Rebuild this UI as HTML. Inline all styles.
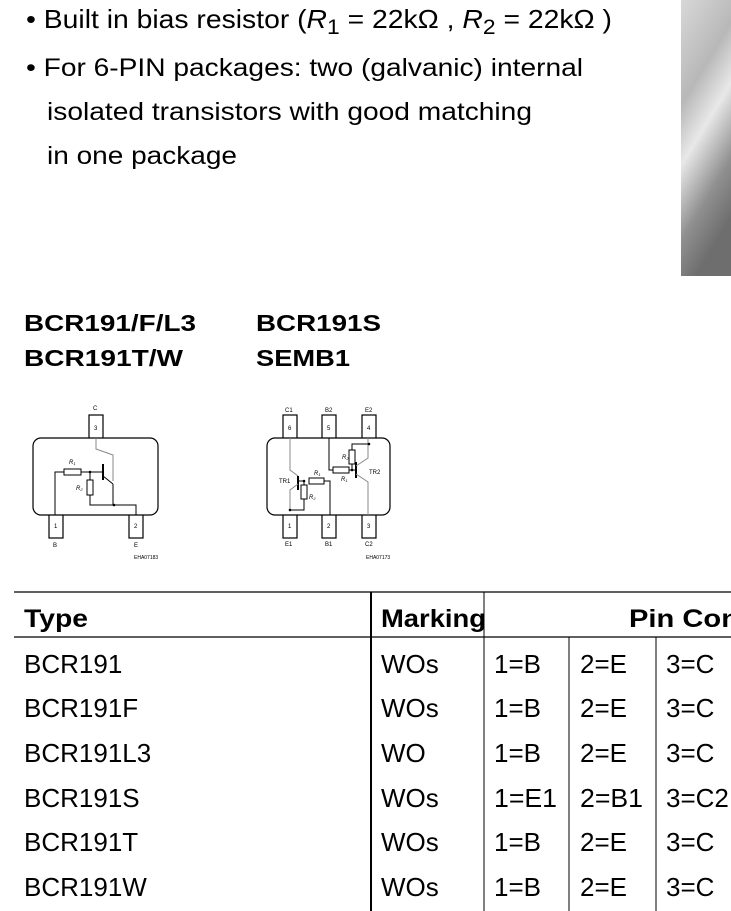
<!DOCTYPE html>
<html><head><style>
body{margin:0;background:#fff;}
svg{display:block;}
text{font-family:"Liberation Sans",sans-serif;fill:#000;}
</style></head><body>
<svg width="731" height="911" viewBox="0 0 731 911" xmlns="http://www.w3.org/2000/svg">
<defs>
<linearGradient id="g" x1="0" y1="0" x2="0.3" y2="1">
<stop offset="0" stop-color="#d8d8d8"/><stop offset="0.35" stop-color="#b8b8b8"/><stop offset="0.55" stop-color="#e8e8e8"/><stop offset="0.8" stop-color="#909090"/><stop offset="1" stop-color="#6e6e6e"/>
</linearGradient>
</defs>
<rect x="681" y="0" width="50" height="276" fill="url(#g)"/>

<g font-size="25">
<text x="26" y="28" font-size="26" textLength="586" lengthAdjust="spacingAndGlyphs">• Built in bias resistor (<tspan font-style="italic">R</tspan><tspan dy="6" font-size="21">1</tspan><tspan dy="-6"> = 22kΩ , </tspan><tspan font-style="italic">R</tspan><tspan dy="6" font-size="21">2</tspan><tspan dy="-6"> = 22kΩ )</tspan></text>
<text x="26" y="76" textLength="557" lengthAdjust="spacingAndGlyphs">• For 6-PIN packages: two (galvanic) internal</text>
<text x="47" y="120" textLength="485" lengthAdjust="spacingAndGlyphs">isolated transistors with good matching</text>
<text x="47" y="164" textLength="190" lengthAdjust="spacingAndGlyphs">in one package</text>
</g>

<g font-size="23" font-weight="bold">
<text x="24" y="331" textLength="172" lengthAdjust="spacingAndGlyphs">BCR191/F/L3</text>
<text x="24" y="366" textLength="159" lengthAdjust="spacingAndGlyphs">BCR191T/W</text>
<text x="256" y="331" textLength="125" lengthAdjust="spacingAndGlyphs">BCR191S</text>
<text x="256" y="366" textLength="94" lengthAdjust="spacingAndGlyphs">SEMB1</text>
</g>

<!-- left package -->
<g stroke="#000" stroke-width="1.2" fill="#fff">
<rect x="89" y="415" width="14" height="24"/>
<rect x="49" y="514" width="14" height="24"/>
<rect x="129" y="514" width="14" height="24"/>
<rect x="33" y="438" width="125" height="77" rx="8"/>
</g>
<g stroke="#000" stroke-width="1" fill="none">
<polyline points="96,438 96,449 113,455 113,481" stroke="#888"/>
<polyline points="55,515 55,472 64,472"/>
<rect x="64" y="469" width="17" height="6"/>
<line x1="81" y1="472" x2="103" y2="472"/>
<line x1="103" y1="464" x2="103" y2="480" stroke-width="2"/>
<line x1="103" y1="476" x2="113" y2="484"/>
<polyline points="90,472 90,480"/>
<rect x="87" y="480" width="6" height="15"/>
<polyline points="90,495 90,505 136,505 136,515"/>
<line x1="113" y1="484" x2="113" y2="505"/>
</g>
<circle cx="90" cy="472" r="1.3"/><circle cx="114" cy="505" r="1.3"/>
<g font-size="6">
<text x="93" y="410">C</text><text x="94" y="430">3</text>
<text x="54" y="528">1</text><text x="134" y="528">2</text>
<text x="53" y="547">B</text><text x="134" y="547">E</text>
<text x="69" y="464" font-style="italic">R<tspan font-size="4" dy="1">1</tspan></text>
<text x="76" y="490" font-style="italic">R<tspan font-size="4" dy="1">2</tspan></text>
<text x="134" y="559" font-size="5">EHA07183</text>
</g>

<!-- right package -->
<g stroke="#000" stroke-width="1.2" fill="#fff">
<rect x="283" y="415" width="14" height="24"/>
<rect x="322" y="415" width="14" height="24"/>
<rect x="362" y="415" width="14" height="24"/>
<rect x="283" y="514" width="14" height="24"/>
<rect x="322" y="514" width="14" height="24"/>
<rect x="362" y="514" width="14" height="24"/>
<rect x="267" y="438" width="123" height="77" rx="8"/>
</g>
<g stroke="#000" stroke-width="1" fill="none">
<polyline points="290,438 290,470 298,476" stroke="#888"/>
<line x1="298" y1="476" x2="298" y2="490" stroke-width="2"/>
<polyline points="298,484 290,490 290,510" stroke="#888"/>
<polyline points="298,481 304,481"/>
<rect x="309" y="478" width="15" height="6"/>
<polyline points="324,481 330,481 330,515"/>
<polyline points="304,481 304,485"/><rect x="301" y="485" width="6" height="14"/>
<polyline points="304,499 304,510 290,510"/>
<polyline points="329,438 329,470 333,470"/>
<rect x="333" y="467" width="16" height="6"/>
<line x1="349" y1="470" x2="356" y2="470"/>
<line x1="356" y1="462" x2="356" y2="478" stroke-width="2"/>
<polyline points="356,466 368,458 368,438" stroke="#888"/>
<polyline points="356,474 368,482 368,515" stroke="#888"/>
<polyline points="352,470 352,464"/><rect x="349" y="450" width="6" height="14"/>
<polyline points="352,450 352,444 369,444"/>
</g>
<circle cx="304" cy="481" r="1.3"/><circle cx="290" cy="510" r="1.3"/><circle cx="352" cy="470" r="1.3"/><circle cx="369" cy="444" r="1.3"/>
<g font-size="6">
<text x="285" y="412">C1</text><text x="325" y="412">B2</text><text x="365" y="412">E2</text>
<text x="288" y="430">6</text><text x="327" y="430">5</text><text x="367" y="430">4</text>
<text x="288" y="528">1</text><text x="327" y="528">2</text><text x="367" y="528">3</text>
<text x="285" y="546">E1</text><text x="325" y="546">B1</text><text x="365" y="546">C2</text>
<text x="279" y="483">TR1</text><text x="369" y="474">TR2</text>
<text x="314" y="475" font-style="italic">R<tspan font-size="4" dy="1">1</tspan></text><text x="341" y="481" font-style="italic">R<tspan font-size="4" dy="1">1</tspan></text>
<text x="342" y="459" font-style="italic">R<tspan font-size="4" dy="1">2</tspan></text><text x="309" y="499" font-style="italic">R<tspan font-size="4" dy="1">2</tspan></text>
<text x="366" y="559" font-size="5">EHA07173</text>
</g>

<!-- table -->
<g stroke="#000">
<line x1="14" y1="592" x2="731" y2="592" stroke-width="1.3"/>
<line x1="14" y1="637" x2="731" y2="637" stroke-width="1.3"/>
<line x1="371" y1="592" x2="371" y2="911" stroke-width="2"/>
<line x1="484" y1="592" x2="484" y2="911" stroke-width="1"/>
<line x1="569" y1="637" x2="569" y2="911" stroke-width="1"/>
<line x1="656" y1="637" x2="656" y2="911" stroke-width="1"/>
</g>
<g font-size="25" font-weight="bold">
<text x="24" y="627" textLength="64" lengthAdjust="spacingAndGlyphs">Type</text>
<text x="381" y="627" textLength="105" lengthAdjust="spacingAndGlyphs">Marking</text>
<text x="629" y="627" textLength="110" lengthAdjust="spacingAndGlyphs">Pin Con</text>
</g>
<g font-size="26">
<text x="24" y="673">BCR191</text><text x="381" y="673">WOs</text><text x="494" y="673">1=B</text><text x="580" y="673">2=E</text><text x="666" y="673">3=C</text>
<text x="24" y="717">BCR191F</text><text x="381" y="717">WOs</text><text x="494" y="717">1=B</text><text x="580" y="717">2=E</text><text x="666" y="717">3=C</text>
<text x="24" y="762">BCR191L3</text><text x="381" y="762">WO</text><text x="494" y="762">1=B</text><text x="580" y="762">2=E</text><text x="666" y="762">3=C</text>
<text x="24" y="807">BCR191S</text><text x="381" y="807">WOs</text><text x="494" y="807" textLength="63" lengthAdjust="spacingAndGlyphs">1=E1</text><text x="580" y="807" textLength="63" lengthAdjust="spacingAndGlyphs">2=B1</text><text x="666" y="807">3=C2</text>
<text x="24" y="851">BCR191T</text><text x="381" y="851">WOs</text><text x="494" y="851">1=B</text><text x="580" y="851">2=E</text><text x="666" y="851">3=C</text>
<text x="24" y="896">BCR191W</text><text x="381" y="896">WOs</text><text x="494" y="896">1=B</text><text x="580" y="896">2=E</text><text x="666" y="896">3=C</text>
</g>
</svg>
</body></html>
